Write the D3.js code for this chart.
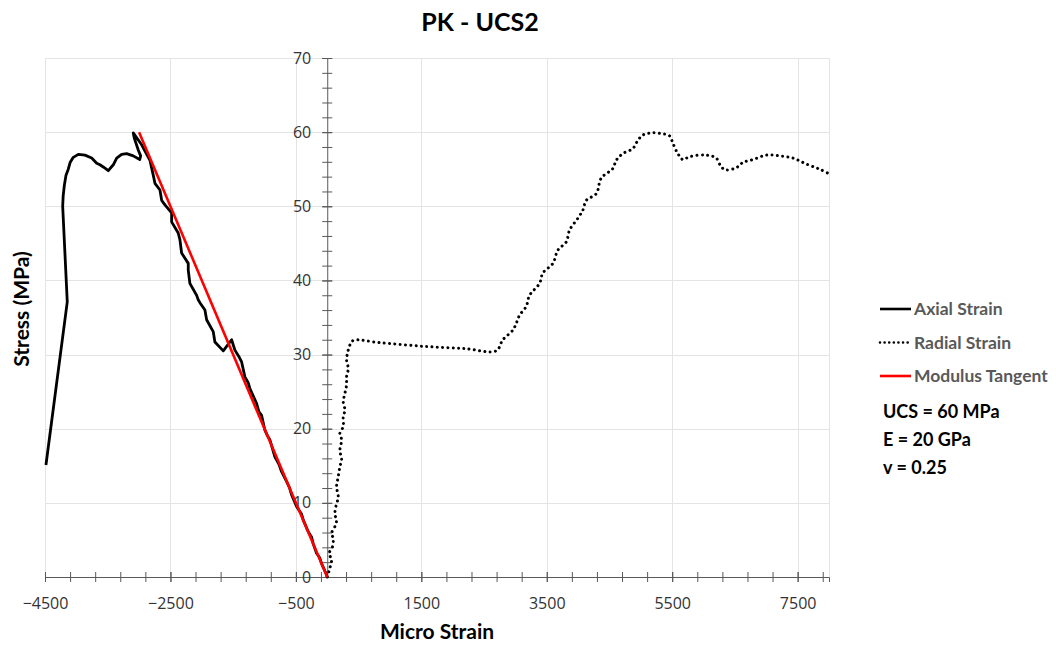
<!DOCTYPE html>
<html>
<head>
<meta charset="utf-8">
<script src="https://cdn.jsdelivr.net/npm/d3@7"></script>
<style>
  html, body { margin: 0; padding: 0; background: #fff; }
  svg { display: block; }
  .tick text { font-family: "Open Sans", sans-serif; font-size: 16px; fill: #333; }
</style>
</head>
<body>
<svg id="chart" width="1056" height="645"></svg>
<script>
// Axial strain (negative = compression), microstrain vs stress (MPa)
const axialStrain = [0, -11, -90, -120, -170, -224, -250, -303, -383, -410, -489, -569, -600, -649, -728, -770,
  -835, -914, -950, -994, -1047, -1090, -1126, -1233, -1260, -1313, -1365, -1400, -1472, -1525,
  -1658, -1791, -1818, -1923, -1950, -2030, -2057, -2083, -2190, -2216, -2216, -2322, -2349, -2376,
  -2481, -2481, -2588, -2640, -2667, -2747, -2774, -2827, -2959, -3093,
  -3077, -3013, -2975, -2990, -3093, -3198, -3278, -3357, -3411, -3491, -3571, -3624, -3676, -3756,
  -3863, -3969, -4049, -4100, -4129, -4165, -4192, -4210, -4218, -4145, -4485];
const axialStress = [0, 0.3, 1.8, 2.6, 3.2, 4.5, 5.4, 6.1, 7.7, 8.5, 9.5, 11.1, 12.0, 12.9, 14.2, 15.2,
  16.2, 18.5, 19.0, 19.8, 21.8, 22.3, 23.4, 25.4, 26.2, 27.0, 29.0, 29.6, 30.6, 32.0,
  30.5, 31.7, 33.1, 34.7, 36.0, 37.0, 37.4, 38.0, 39.6, 41.4, 42.3, 43.7, 45.5, 46.4,
  47.9, 49.1, 50.2, 50.8, 52.2, 53.1, 54.2, 56.2, 58.3, 59.9,
  59.2, 57.6, 56.8, 56.3, 56.8, 57.1, 57.0, 56.5, 55.6, 54.8, 55.3, 55.6, 55.8, 56.5,
  56.9, 57.0, 56.6, 55.9, 55.0, 54.2, 52.8, 51.4, 50.0, 37.1, 15.1];

// Radial strain (positive = expansion)
const radialStrain = [0, 42, 69, 31, 85, 95, 69, 122, 149, 122, 138, 175, 149, 175, 202, 229, 202, 229, 202,
  255, 255, 282, 255, 282, 308, 308, 335, 308, 335, 362, 415, 843, 1556, 2200, 2693,
  2800, 2960, 3013, 3066, 3172, 3226, 3385, 3438, 3598, 3678, 3811, 3864, 3997, 4077, 4130, 4289,
  4369, 4554, 4607, 4713, 4873, 4953, 5032, 5165, 5325, 5458, 5511, 5590, 5670, 5777, 6042, 6202,
  6282, 6362, 6521, 6628, 6788, 7001, 7213, 7426, 7638, 7851, 8000];
const radialStress = [0, 1.2, 2.3, 3.2, 4.1, 5.2, 5.9, 6.8, 7.7, 8.4, 9.5, 10.8, 12.2, 13.5, 14.9, 15.8, 17.1, 18.5, 19.4,
  20.3, 21.6, 22.5, 23.6, 24.8, 25.9, 27.0, 28.1, 29.3, 30.6, 31.3, 31.9, 31.6, 31.1, 30.8, 30.5,
  32.0, 33.3, 34.2, 35.3, 36.5, 38.0, 39.6, 41.0, 42.3, 44.1, 45.2, 46.8, 48.4, 49.5, 50.8, 51.7,
  53.8, 55.1, 56.2, 57.1, 57.8, 58.9, 59.6, 59.9, 59.8, 59.5, 58.5, 57.1, 56.3, 56.7, 56.9, 56.5,
  55.3, 54.9, 55.2, 55.9, 56.3, 56.9, 56.8, 56.5, 55.7, 55.0, 54.4];

// Tangent modulus line (E = 20 GPa)
const tangentStrain = [0, -3000];
const tangentStress = [0, 60];

const strainTicks = [-4500, -2500, -500, 1500, 3500, 5500, 7500];
const stressTicks = [0, 10, 20, 30, 40, 50, 60, 70];
const legendLabels = ["Axial Strain", "Radial Strain", "Modulus Tangent"];
const notes = ["UCS = 60 MPa", "E = 20 GPa", "v = 0.25"];

const svg = d3.select("#chart");
const plot = { left: 45, right: 829, top: 58, bottom: 577 };

const x = d3.scaleLinear().domain([-4500, 8000]).range([plot.left, plot.right]);
const y = d3.scaleLinear().domain([0, 70]).range([plot.bottom, plot.top]);

// Title
svg.append("text")
  .attr("x", 480).attr("y", 31)
  .attr("text-anchor", "middle")
  .attr("font-family", "Lato, sans-serif").attr("font-weight", "bold").attr("font-size", 25)
  .attr("fill", "#000")
  .text("PK - UCS2");

// Gridlines
const grid = svg.append("g").attr("stroke", "#e4e4e4").attr("stroke-width", 1);
grid.selectAll(".hg").data(stressTicks.filter(d => d > 0)).join("line")
  .attr("x1", plot.left).attr("x2", plot.right)
  .attr("y1", d => Math.round(y(d)) + 0.5).attr("y2", d => Math.round(y(d)) + 0.5);
grid.selectAll(".vg").data(strainTicks.concat([8000])).join("line")
  .attr("x1", d => Math.round(x(d)) + 0.5).attr("x2", d => Math.round(x(d)) + 0.5)
  .attr("y1", plot.top).attr("y2", plot.bottom);

// Minor tick values
const xMinor = d3.range(-4500, 8001, 400);
const yMinor = d3.range(0, 70.1, 2);

// X axis (at stress = 0)
const xAxisG = svg.append("g").attr("transform", `translate(0,${y(0)})`);
xAxisG.append("g")
  .call(d3.axisBottom(x).tickValues(xMinor).tickSize(5).tickFormat(""))
  .call(g => g.selectAll(".tick line").attr("y1", -5))
  .call(g => g.select(".domain").remove());
xAxisG.append("g")
  .call(d3.axisBottom(x).tickValues(strainTicks).tickSize(5).tickPadding(16).tickFormat(d3.format("d")))
  .call(g => g.selectAll(".tick line").attr("y1", -5));
xAxisG.selectAll("line, path").attr("stroke", "#595959");

// Y axis (at strain = 0)
const yAxisG = svg.append("g").attr("transform", `translate(${x(0)},0)`);
yAxisG.append("g")
  .call(d3.axisLeft(y).tickValues(yMinor).tickSize(5).tickFormat(""))
  .call(g => g.selectAll(".tick line").attr("x1", 5))
  .call(g => g.select(".domain").remove());
yAxisG.append("g")
  .call(d3.axisLeft(y).tickValues(stressTicks).tickSize(5).tickPadding(11).tickFormat(d3.format("d")))
  .call(g => g.selectAll(".tick line").attr("x1", 5));
yAxisG.selectAll("line, path").attr("stroke", "#595959");

// Axis titles
svg.append("text")
  .attr("x", (plot.left + plot.right) / 2).attr("y", 639)
  .attr("text-anchor", "middle")
  .attr("font-family", "Lato, sans-serif").attr("font-weight", "bold").attr("font-size", 21)
  .text("Micro Strain");
svg.append("text")
  .attr("transform", "translate(29,309) rotate(-90)")
  .attr("text-anchor", "middle")
  .attr("font-family", "Lato, sans-serif").attr("font-weight", "bold").attr("font-size", 21)
  .text("Stress (MPa)");

// Series
svg.append("clipPath").attr("id", "plotclip").append("rect")
  .attr("x", plot.left - 2).attr("y", plot.top - 2)
  .attr("width", plot.right - plot.left + 2).attr("height", plot.bottom - plot.top + 4);

const series = svg.append("g").attr("clip-path", "url(#plotclip)");
const smooth = d3.line().x(d => x(d[0])).y(d => y(d[1])).curve(d3.curveCatmullRom.alpha(0.5));
const straight = d3.line().x(d => x(d[0])).y(d => y(d[1]));

series.append("path")
  .datum(radialStrain.map((s, i) => [s, radialStress[i]]))
  .attr("fill", "none").attr("stroke", "#000").attr("stroke-width", 3)
  .attr("stroke-linecap", "round").attr("stroke-dasharray", "0.01 5.3")
  .attr("d", smooth);

series.append("path")
  .datum(axialStrain.map((s, i) => [s, axialStress[i]]))
  .attr("fill", "none").attr("stroke", "#000").attr("stroke-width", 2.8)
  .attr("stroke-linejoin", "round")
  .attr("d", straight);

series.append("path")
  .datum(tangentStrain.map((s, i) => [s, tangentStress[i]]))
  .attr("fill", "none").attr("stroke", "#ff0000").attr("stroke-width", 2.6)
  .attr("d", straight);

// Legend
const legend = svg.append("g");
const legendY = [309, 342.5, 376];
const styles = [
  { stroke: "#000", dash: null, cap: "butt", w: 2.6 },
  { stroke: "#000", dash: "0.01 4.6", cap: "round", w: 2.6 },
  { stroke: "#ff0000", dash: null, cap: "butt", w: 2.6 }
];
legendLabels.forEach((lab, i) => {
  legend.append("line")
    .attr("x1", 880).attr("x2", 911).attr("y1", legendY[i]).attr("y2", legendY[i])
    .attr("stroke", styles[i].stroke).attr("stroke-width", styles[i].w)
    .attr("stroke-linecap", styles[i].cap)
    .attr("stroke-dasharray", styles[i].dash);
  legend.append("text")
    .attr("x", 914).attr("y", legendY[i]).attr("dy", "0.36em")
    .attr("font-family", "Lato, sans-serif").attr("font-weight", "bold").attr("font-size", 17.5)
    .attr("fill", "#595959")
    .text(lab);
});

// Test results
const noteY = [412, 440, 468];
notes.forEach((t, i) => {
  svg.append("text")
    .attr("x", 883).attr("y", noteY[i]).attr("dy", "0.36em")
    .attr("font-family", "Lato, sans-serif").attr("font-weight", "bold").attr("font-size", 18)
    .attr("fill", "#000")
    .text(t);
});
</script>
</body>
</html>
